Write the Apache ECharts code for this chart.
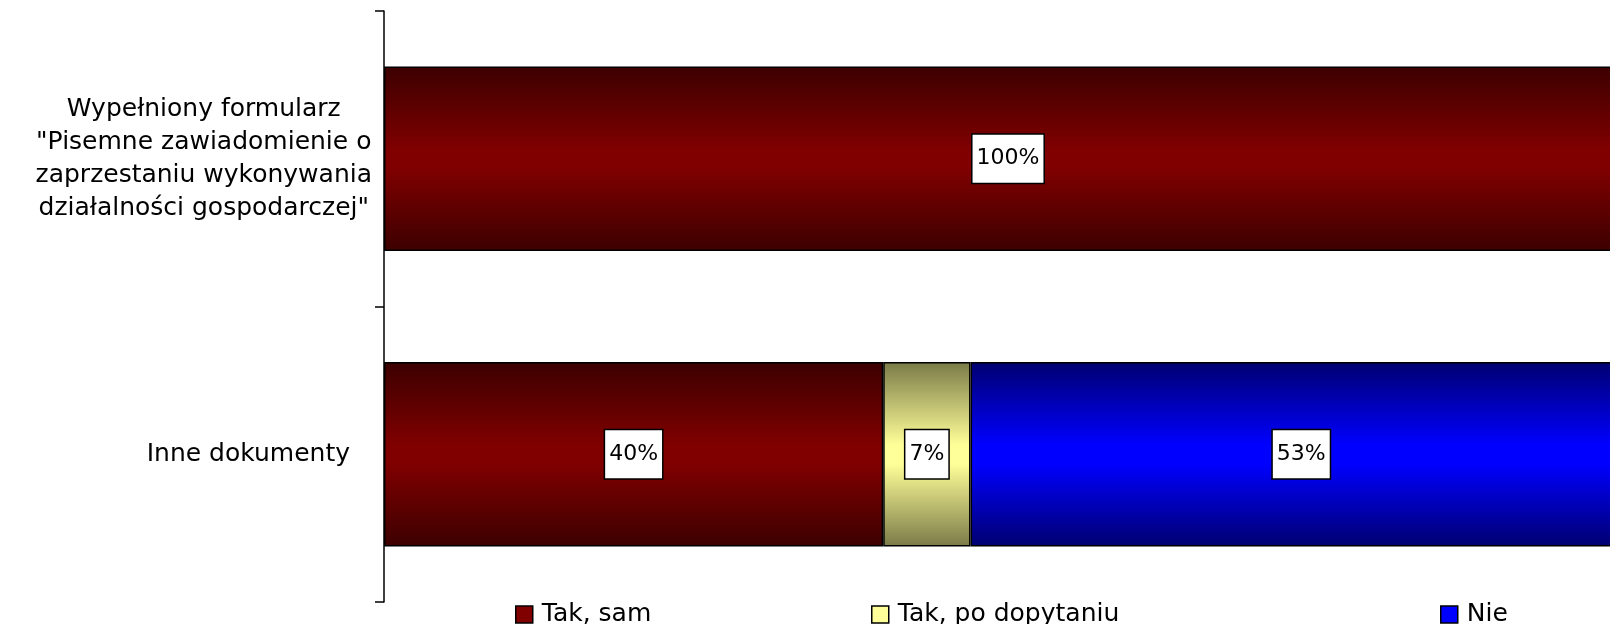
<!DOCTYPE html>
<html>
<head>
<meta charset="utf-8">
<script src="https://cdn.jsdelivr.net/npm/echarts@6/dist/echarts.min.js"></script>
<style>
  html, body { margin: 0; padding: 0; background: #fff; }
  #chart { width: 1610px; height: 624px; }
</style>
</head>
<body>
<div id="chart"></div>
<script>
var categories = [
    'Wypełniony formularz\n"Pisemne zawiadomienie o\nzaprzestaniu wykonywania\ndziałalności gospodarczej"',
    'Inne dokumenty'
];
var seriesNames = ['Tak, sam', 'Tak, po dopytaniu', 'Nie'];
var takSam = [100, 40];
var takPoDopytaniu = [0, 7];
var nie = [0, 53];

function grad(edge, mid) {
    return new echarts.graphic.LinearGradient(0, 0, 0, 1, [
        { offset: 0, color: edge },
        { offset: 0.45, color: mid },
        { offset: 0.55, color: mid },
        { offset: 1, color: edge }
    ]);
}
var colors = [
    grad('#3c0000', '#800000'),
    grad('#7a7a48', '#ffff99'),
    grad('#000070', '#0000ff')
];
var flatColors = ['#800000', '#ffff99', '#0000ff'];

var chart = echarts.init(document.getElementById('chart'));

var font = 'DejaVu Sans';

function makeSeries(name, values, i) {
    return {
        name: name,
        type: 'bar',
        stack: 'all',
        barWidth: '62.5%',
        clip: false,
        data: values.map(function (v) { return v === 0 ? '-' : v; }),
        itemStyle: { color: colors[i], borderColor: '#000', borderWidth: 1.5 },
        label: {
            show: true,
            position: 'inside',
            formatter: '{c}%',
            fontFamily: font,
            fontSize: 22,
            color: '#000',
            backgroundColor: '#fff',
            borderColor: '#000',
            borderWidth: 1.5,
            padding: [14, 4, 12, 4]
        }
    };
}

function legendAt(name, i, left) {
    return {
        data: [{ name: name, itemStyle: { color: flatColors[i] } }],
        left: left,
        top: 597,
        itemWidth: 17,
        itemHeight: 17,
        icon: 'rect',
        itemStyle: { borderColor: '#000', borderWidth: 1.5 },
        textStyle: { fontFamily: font, fontSize: 25, color: '#000', padding: [0, 0, 0, 4] }
    };
}

var option = {
    animation: false,
    backgroundColor: '#fff',
    grid: { left: 384, width: 1248, top: 11, bottom: 22, outerBoundsMode: 'none', containLabel: false },
    legend: [
        legendAt(seriesNames[0], 0, 510),
        legendAt(seriesNames[1], 1, 866),
        legendAt(seriesNames[2], 2, 1435)
    ],
    xAxis: {
        type: 'value',
        min: 0,
        max: 100,
        show: false
    },
    yAxis: {
        type: 'category',
        inverse: true,
        data: categories,
        axisLine: { show: true, lineStyle: { color: '#000', width: 1.5 } },
        axisTick: { show: true, length: 9, lineStyle: { color: '#000', width: 1.5 } },
        axisLabel: {
            margin: 12,
            color: '#000',
            fontFamily: font,
            fontSize: 25,
            lineHeight: 33,
            formatter: function (v, idx) {
                var lines = v.split('\n').map(function (l) { return '{c|' + l + '}'; });
                return lines.join('\n') + (idx === 1 ? '{p|}' : '');
            },
            rich: {
                c: { align: 'center', fontFamily: font, fontSize: 25, lineHeight: 33, color: '#000' },
                p: { width: 22 }
            }
        }
    },
    series: [
        makeSeries(seriesNames[0], takSam, 0),
        makeSeries(seriesNames[1], takPoDopytaniu, 1),
        makeSeries(seriesNames[2], nie, 2)
    ]
};

chart.setOption(option);
</script>
</body>
</html>
